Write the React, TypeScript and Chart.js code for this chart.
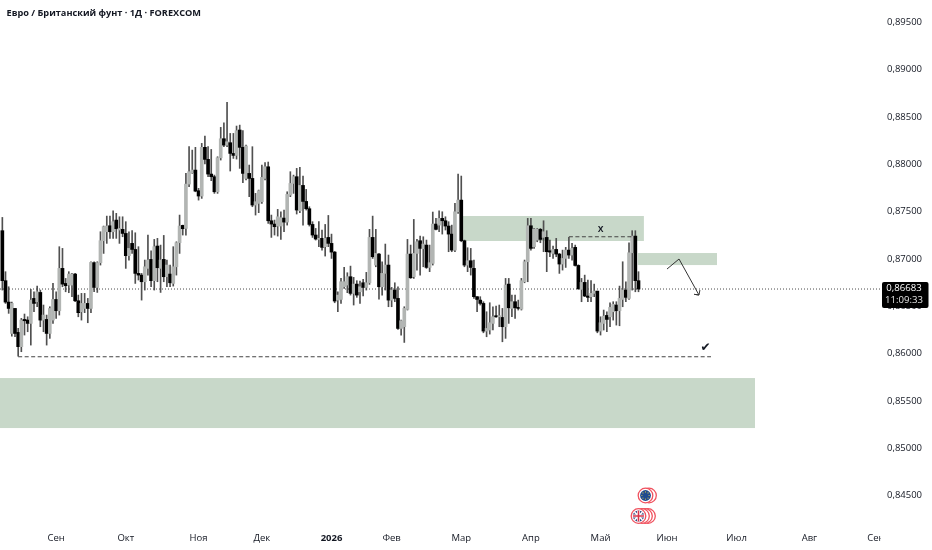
import React, { useEffect, useRef } from "react";
import { Chart, registerables } from "chart.js";

Chart.register(...registerables);

// Prices are stored in 1/100000 units (87299 = 0,87299)
const opens = [
  87299,86771,86545,86214,86478,86225,86074,86362,86355,86320,
  86584,86549,86647,86355,86362,86214,86355,86573,86454,86901,
  86742,86725,86725,86841,86559,86443,86478,86531,86478,86961,
  86700,86961,87193,87288,87351,87288,87411,87306,87313,87270,
  87035,87165,87101,86848,86830,86760,86901,86996,86771,87137,
  86901,86996,86813,86841,86742,86918,87172,87355,87323,87791,
  87911,87939,87721,87665,88179,88052,87897,87869,87710,88069,
  88270,88203,88228,88115,88094,88362,88179,87851,87904,87851,
  87570,87587,87605,87851,87974,87404,87369,87348,87348,87432,
  87390,87675,87798,87869,87510,87777,87608,87531,87365,87253,
  87207,87218,87130,87228,87165,87073,86566,86573,86707,86725,
  86813,86637,86735,86654,86749,86700,86749,87228,86936,87052,
  86707,86848,86936,86566,86672,86584,86267,86285,86468,87052,
  86813,87059,87193,87108,87147,86911,86954,87369,87358,87429,
  87404,87348,87263,87094,87499,87622,87193,86936,86982,86901,
  86602,86566,86531,86239,86250,86320,86401,86390,86383,86285,
  86735,86478,86549,86489,86471,86760,86971,87351,87130,87200,
  87313,87228,87228,87087,87059,87101,87052,86947,87006,87094,
  87042,87123,86932,86679,86753,86609,86602,86637,86661,86239,
  86320,86404,86390,86443,86514,86454,86573,86672,86584,87066,
  87242,86771,
];
const highs = [
  87439,86866,86707,86545,86478,86267,86373,86419,86390,86679,
  86654,86714,86672,86514,86408,86496,86742,86654,87130,87112,
  86795,86866,86848,86848,86619,86637,86637,86584,86971,86971,
  86971,87288,87348,87453,87453,87510,87482,87446,87446,87394,
  87288,87299,87277,87130,86848,86989,87253,87087,87207,87218,
  87147,87249,86989,86936,87130,87182,87464,87358,87904,88186,
  88150,88179,87746,88221,88298,88186,88157,87886,88080,88390,
  88439,88654,88326,88326,88404,88414,88355,88203,87992,88186,
  87693,87728,87992,88017,88024,87464,87411,87524,87499,87517,
  87710,87922,87886,87957,87967,87876,87735,87552,87394,87323,
  87394,87306,87365,87460,87263,87080,86654,86795,86911,86855,
  86925,86806,86771,86767,86785,86859,87313,87453,87313,87059,
  86971,87158,87042,86700,86749,86707,86355,86496,87207,87147,
  87418,87207,87242,87235,87200,87147,87496,87429,87510,87499,
  87446,87394,87358,87587,87897,87876,87200,87119,87112,86989,
  86602,86602,86549,86443,86538,86496,86503,86514,86478,86795,
  86795,86619,86619,86566,86795,86989,87429,87429,87323,87323,
  87323,87404,87299,87200,87137,87218,87059,87094,87123,87228,
  87165,87147,86939,86795,86830,86778,86771,86735,86661,86390,
  86461,86443,86538,86549,86549,86714,86971,86760,87172,87299,
  87299,86866,
];
const lows = [
  86672,86531,86426,86186,86179,85975,86021,86197,86232,86091,
  86443,86496,86285,86232,86091,86162,86320,86373,86408,86707,
  86654,86644,86602,86549,86390,86355,86433,86327,86433,86654,
  86647,86936,87059,87165,87218,87218,87218,87165,87235,86901,
  86989,87059,86742,86778,86566,86672,86830,86707,86672,86760,
  86647,86760,86707,86707,86714,86830,87059,87253,87253,87763,
  87904,87710,87622,87640,88003,87869,87827,87693,87693,88045,
  88186,88186,87929,88062,88055,87957,87805,87834,87658,87552,
  87464,87489,87587,87834,87376,87228,87253,87242,87207,87288,
  87358,87658,87693,87475,87489,87358,87517,87348,87228,87200,
  87130,87094,87031,87130,87006,86538,86443,86531,86690,86644,
  86619,86514,86595,86531,86609,86672,86732,87006,86918,86577,
  86619,86672,86496,86496,86549,86257,86197,86119,86461,86795,
  86795,86883,86830,86918,86901,86866,86936,87306,87288,87263,
  87306,87077,87077,87077,87482,87182,86918,86866,86830,86584,
  86443,86514,86221,86179,86207,86250,86383,86285,86126,86162,
  86320,86390,86373,86461,86461,86749,86760,87094,87112,87182,
  87172,87077,86866,87024,87006,87024,86848,86883,86911,87006,
  86989,86925,86679,86549,86602,86549,86549,86602,86221,86197,
  86250,86232,86285,86355,86302,86295,86496,86549,86573,86672,
  86654,86654,
];
const closes = [
  86771,86545,86478,86531,86214,86074,86355,86348,86320,86566,
  86531,86654,86355,86408,86214,86478,86573,86454,86901,86735,
  86718,86841,86841,86559,86433,86531,86531,86478,86964,86700,
  86961,87193,87341,87348,87288,87394,87320,87323,87270,87035,
  87112,87101,86848,86830,86760,86918,86989,86771,87130,86908,
  86989,86813,86936,86749,86918,87172,87348,87320,87791,87922,
  87939,87717,87665,88179,88052,87897,87869,87710,88069,88270,
  88203,88238,88115,88094,88355,88179,87904,88193,87851,87570,
  87605,87721,87862,87974,87404,87369,87341,87446,87436,87390,
  87682,87798,87869,87517,87777,87608,87531,87365,87253,87211,
  87218,87123,87218,87165,87073,86556,86619,86760,86760,86813,
  86637,86735,86619,86707,86700,86749,87228,87024,87059,86707,
  86848,86936,86566,86672,86584,86267,86348,86478,87052,86802,
  87059,87182,87112,87158,86911,86961,87369,87313,87429,87404,
  87348,87263,87094,87499,87622,87193,86936,86982,86911,86602,
  86573,86531,86239,86267,86327,86390,86390,86401,86285,86725,
  86485,86549,86485,86478,86771,86971,87351,87112,87316,87316,
  87207,87288,87077,87073,87101,87052,86947,87006,87094,87042,
  87112,86932,86686,86753,86609,86595,86637,86661,86239,86327,
  86397,86362,86489,86521,86454,86584,86672,86595,87066,87242,
  86771,86683,
];

const TITLE = "Евро / Британский фунт · 1Д · FOREXCOM";
const lastPrice = 0.86683;
const lastPriceLabel = "0,86683";
const countdownLabel = "11:09:33";

const monthLabels = ["Сен","Окт","Ноя","Дек","2026","Фев","Мар","Апр","Май","Июн","Июл","Авг","Сен"];
const monthBars = [17,39,62,82,104,123,145,167,189,210,232,255,276];
const priceTicks = [0.845,0.85,0.855,0.86,0.865,0.87,0.875,0.88,0.885,0.89,0.895];

// zones: bar index range and price range
const zoneFrom = [145.5, 200.8, -1];
const zoneTo = [202.7, 225.8, 237.8];
const zoneHigh = [0.87454, 0.87063, 0.85743];
const zoneLow = [0.8719, 0.86936, 0.85215];

const supportBars = [5, 223.9];
const supportPrices = [0.85968, 0.85968];
const neckBars = [179, 199.3];
const neckPrices = [0.87235, 0.87235];
const arrowBars = [210, 213.8, 220.1, 218.6, 220.1, 220.4];
const arrowPrices = [0.86894, 0.87, 0.8662, 0.86627, 0.8662, 0.86672];
const noteBars = [189, 222.2];
const notePrices = [0.87317, 0.8606];
const noteTexts = ["x", "✔"];

const UP = "#b2b5b3";
const DOWN = "#000000";
const WICK = "#505050";
const ZONE = "#c8d8c9";
const INK = "#131722";

const xMin = -0.74;
const xMax = 277.3;
const yMax = 0.89735;
const yMin = 0.84244;

function rings(c: CanvasRenderingContext2D, centers: number[], cy: number) {
  c.strokeStyle = "#f0525f";
  c.fillStyle = "#fff";
  c.lineWidth = 1.3;
  centers.forEach((cx) => {
    c.beginPath();
    c.arc(cx, cy, 7.3, 0, Math.PI * 2);
    c.fill();
    c.stroke();
  });
}

function drawEU(c: CanvasRenderingContext2D) {
  const cx = 645.5;
  const cy = 495.5;
  c.save();
  rings(c, [649, cx], cy);
  c.fillStyle = "#1f4a8f";
  c.beginPath();
  c.arc(cx, cy, 5.4, 0, Math.PI * 2);
  c.fill();
  c.fillStyle = "#d9c34a";
  for (let k = 0; k < 8; k++) {
    const a = (k * Math.PI) / 4;
    c.beginPath();
    c.arc(cx + Math.cos(a) * 3.6, cy + Math.sin(a) * 3.6, 0.6, 0, Math.PI * 2);
    c.fill();
  }
  c.restore();
}

function drawUK(c: CanvasRenderingContext2D) {
  const cx = 638.5;
  const cy = 516;
  c.save();
  rings(c, [648, 645, 642, cx], cy);
  c.save();
  c.beginPath();
  c.arc(cx, cy, 5.6, 0, Math.PI * 2);
  c.clip();
  c.fillStyle = "#33477f";
  c.fillRect(cx - 6, cy - 6, 12, 12);
  c.strokeStyle = "#fff";
  c.lineWidth = 1.6;
  c.beginPath();
  c.moveTo(cx - 6, cy - 6); c.lineTo(cx + 6, cy + 6);
  c.moveTo(cx + 6, cy - 6); c.lineTo(cx - 6, cy + 6);
  c.stroke();
  c.lineWidth = 3;
  c.beginPath();
  c.moveTo(cx, cy - 6); c.lineTo(cx, cy + 6);
  c.moveTo(cx - 6, cy); c.lineTo(cx + 6, cy);
  c.stroke();
  c.strokeStyle = "#d8344a";
  c.lineWidth = 1.6;
  c.beginPath();
  c.moveTo(cx, cy - 6); c.lineTo(cx, cy + 6);
  c.moveTo(cx - 6, cy); c.lineTo(cx + 6, cy);
  c.stroke();
  c.restore();
  c.restore();
}

const overlay = {
  id: "overlay",
  beforeDatasetsDraw(chart: any) {
    const { ctx, scales } = chart;
    ctx.save();
    ctx.fillStyle = ZONE;
    zoneFrom.forEach((from, k) => {
      const x0 = Math.max(0, scales.x.getPixelForValue(from));
      const x1 = scales.x.getPixelForValue(zoneTo[k]);
      const y0 = scales.y.getPixelForValue(zoneHigh[k]);
      const y1 = scales.y.getPixelForValue(zoneLow[k]);
      ctx.fillRect(x0, y0, x1 - x0, y1 - y0);
    });
    ctx.restore();
  },
  afterDraw(chart: any) {
    const { ctx, scales } = chart;
    ctx.save();
    // hide the part of the last month label running under the price axis
    ctx.fillStyle = "#fff";
    ctx.fillRect(880.7, 525, 51, 25);

    ctx.fillStyle = INK;
    ctx.textAlign = "left";
    ctx.textBaseline = "middle";
    ctx.font = '700 9.2px "Open Sans"';
    ctx.fillText(TITLE, 6.5, 13.5);

    ctx.textAlign = "center";
    noteTexts.forEach((t, k) => {
      ctx.font = t === "x" ? '600 10.5px "Open Sans"' : '12px "DejaVu Sans"';
      ctx.fillText(t, scales.x.getPixelForValue(noteBars[k]), scales.y.getPixelForValue(notePrices[k]));
    });

    // last price tag
    ctx.fillStyle = "#000";
    ctx.beginPath();
    ctx.roundRect(882, 282, 46.5, 26, 2);
    ctx.fill();
    ctx.fillStyle = "#fff";
    ctx.font = '9.6px "Open Sans"';
    ctx.fillText(lastPriceLabel, 904, 288);
    ctx.fillStyle = "#e6e6e6";
    ctx.fillText(countdownLabel, 904, 300.5);

    drawUK(ctx);
    drawEU(ctx);
    ctx.restore();
  },
};

const p5 = (v: number) => v / 100000;

export default function App() {
  const ref = useRef<HTMLCanvasElement>(null);
  useEffect(() => {
    if (!ref.current) return;
    const colors = opens.map((o, i) => (closes[i] >= o ? UP : DOWN));
    const chart = new Chart(ref.current, {
      type: "bar",
      data: {
        datasets: [
          {
            type: "line",
            label: "Last price",
            data: [{ x: xMin, y: lastPrice }, { x: xMax, y: lastPrice }],
            borderColor: "#4a4a4a",
            borderWidth: 1,
            borderDash: [1, 2],
            pointRadius: 0,
            order: 5,
          },
          {
            label: "Wicks",
            data: highs.map((h, i) => ({ x: i, y: [p5(lows[i]), p5(h)] })),
            backgroundColor: WICK,
            barThickness: 1,
            grouped: false,
            order: 4,
          },
          {
            label: "Bodies",
            data: opens.map((o, i) => ({ x: i, y: [p5(o), p5(closes[i])] })),
            backgroundColor: colors,
            barThickness: 3,
            minBarLength: 1,
            grouped: false,
            order: 3,
          },
          {
            type: "line",
            label: "Support",
            data: supportBars.map((x, i) => ({ x, y: supportPrices[i] })),
            borderColor: "#444",
            borderWidth: 1.2,
            borderDash: [4, 2.5],
            pointRadius: 0,
            order: 2,
          },
          {
            type: "line",
            label: "Neck",
            data: neckBars.map((x, i) => ({ x, y: neckPrices[i] })),
            borderColor: "#444",
            borderWidth: 1.2,
            borderDash: [4, 2.5],
            pointRadius: 0,
            order: 2,
          },
          {
            type: "line",
            label: "Path",
            data: arrowBars.map((x, i) => ({ x, y: arrowPrices[i] })),
            borderColor: "#333",
            borderWidth: 1,
            pointRadius: 0,
            tension: 0,
            order: 1,
          },
        ] as any,
      },
      plugins: [overlay],
      options: {
        responsive: false,
        animation: false,
        events: [],
        layout: { padding: 0 },
        plugins: { legend: { display: false }, tooltip: { enabled: false }, title: { display: false } },
        scales: {
          x: {
            type: "linear",
            offset: false,
            min: xMin,
            max: xMax,
            grid: { display: false, offset: false, drawTicks: false },
            border: { display: false },
            afterFit: (s: any) => {
              s.height = 30;
              s.paddingLeft = 0;
              s.paddingRight = 0;
            },
            afterBuildTicks: (s: any) => { s.ticks = monthBars.map((value) => ({ value })); },
            ticks: {
              autoSkip: false,
              maxRotation: 0,
              includeBounds: false,
              padding: 13,
              color: INK,
              font: (c: any) => ({ family: "Open Sans", size: 9.5, weight: c.tick && c.tick.value === 104 ? "700" : "400" }),
              callback: (v: any) => monthLabels[monthBars.indexOf(v)],
            },
          },
          y: {
            type: "linear",
            position: "right",
            min: yMin,
            max: yMax,
            grid: { display: false, drawTicks: false },
            border: { display: false },
            afterFit: (s: any) => {
              s.width = 52;
              s.paddingTop = 0;
              s.paddingBottom = 0;
            },
            afterBuildTicks: (s: any) => { s.ticks = priceTicks.map((value) => ({ value })); },
            ticks: {
              autoSkip: false,
              includeBounds: false,
              padding: 7,
              color: INK,
              font: { family: "Open Sans", size: 9.5 },
              callback: (v: any) => Number(v).toFixed(5).replace(".", ","),
            },
          },
        },
      } as any,
    });
    return () => chart.destroy();
  }, []);
  return (
    <div style={{ position: "absolute", left: 0, top: 0, width: 932, height: 550, background: "#fff" }}>
      <canvas ref={ref} width={932} height={550} style={{ display: "block" }} />
    </div>
  );
}
